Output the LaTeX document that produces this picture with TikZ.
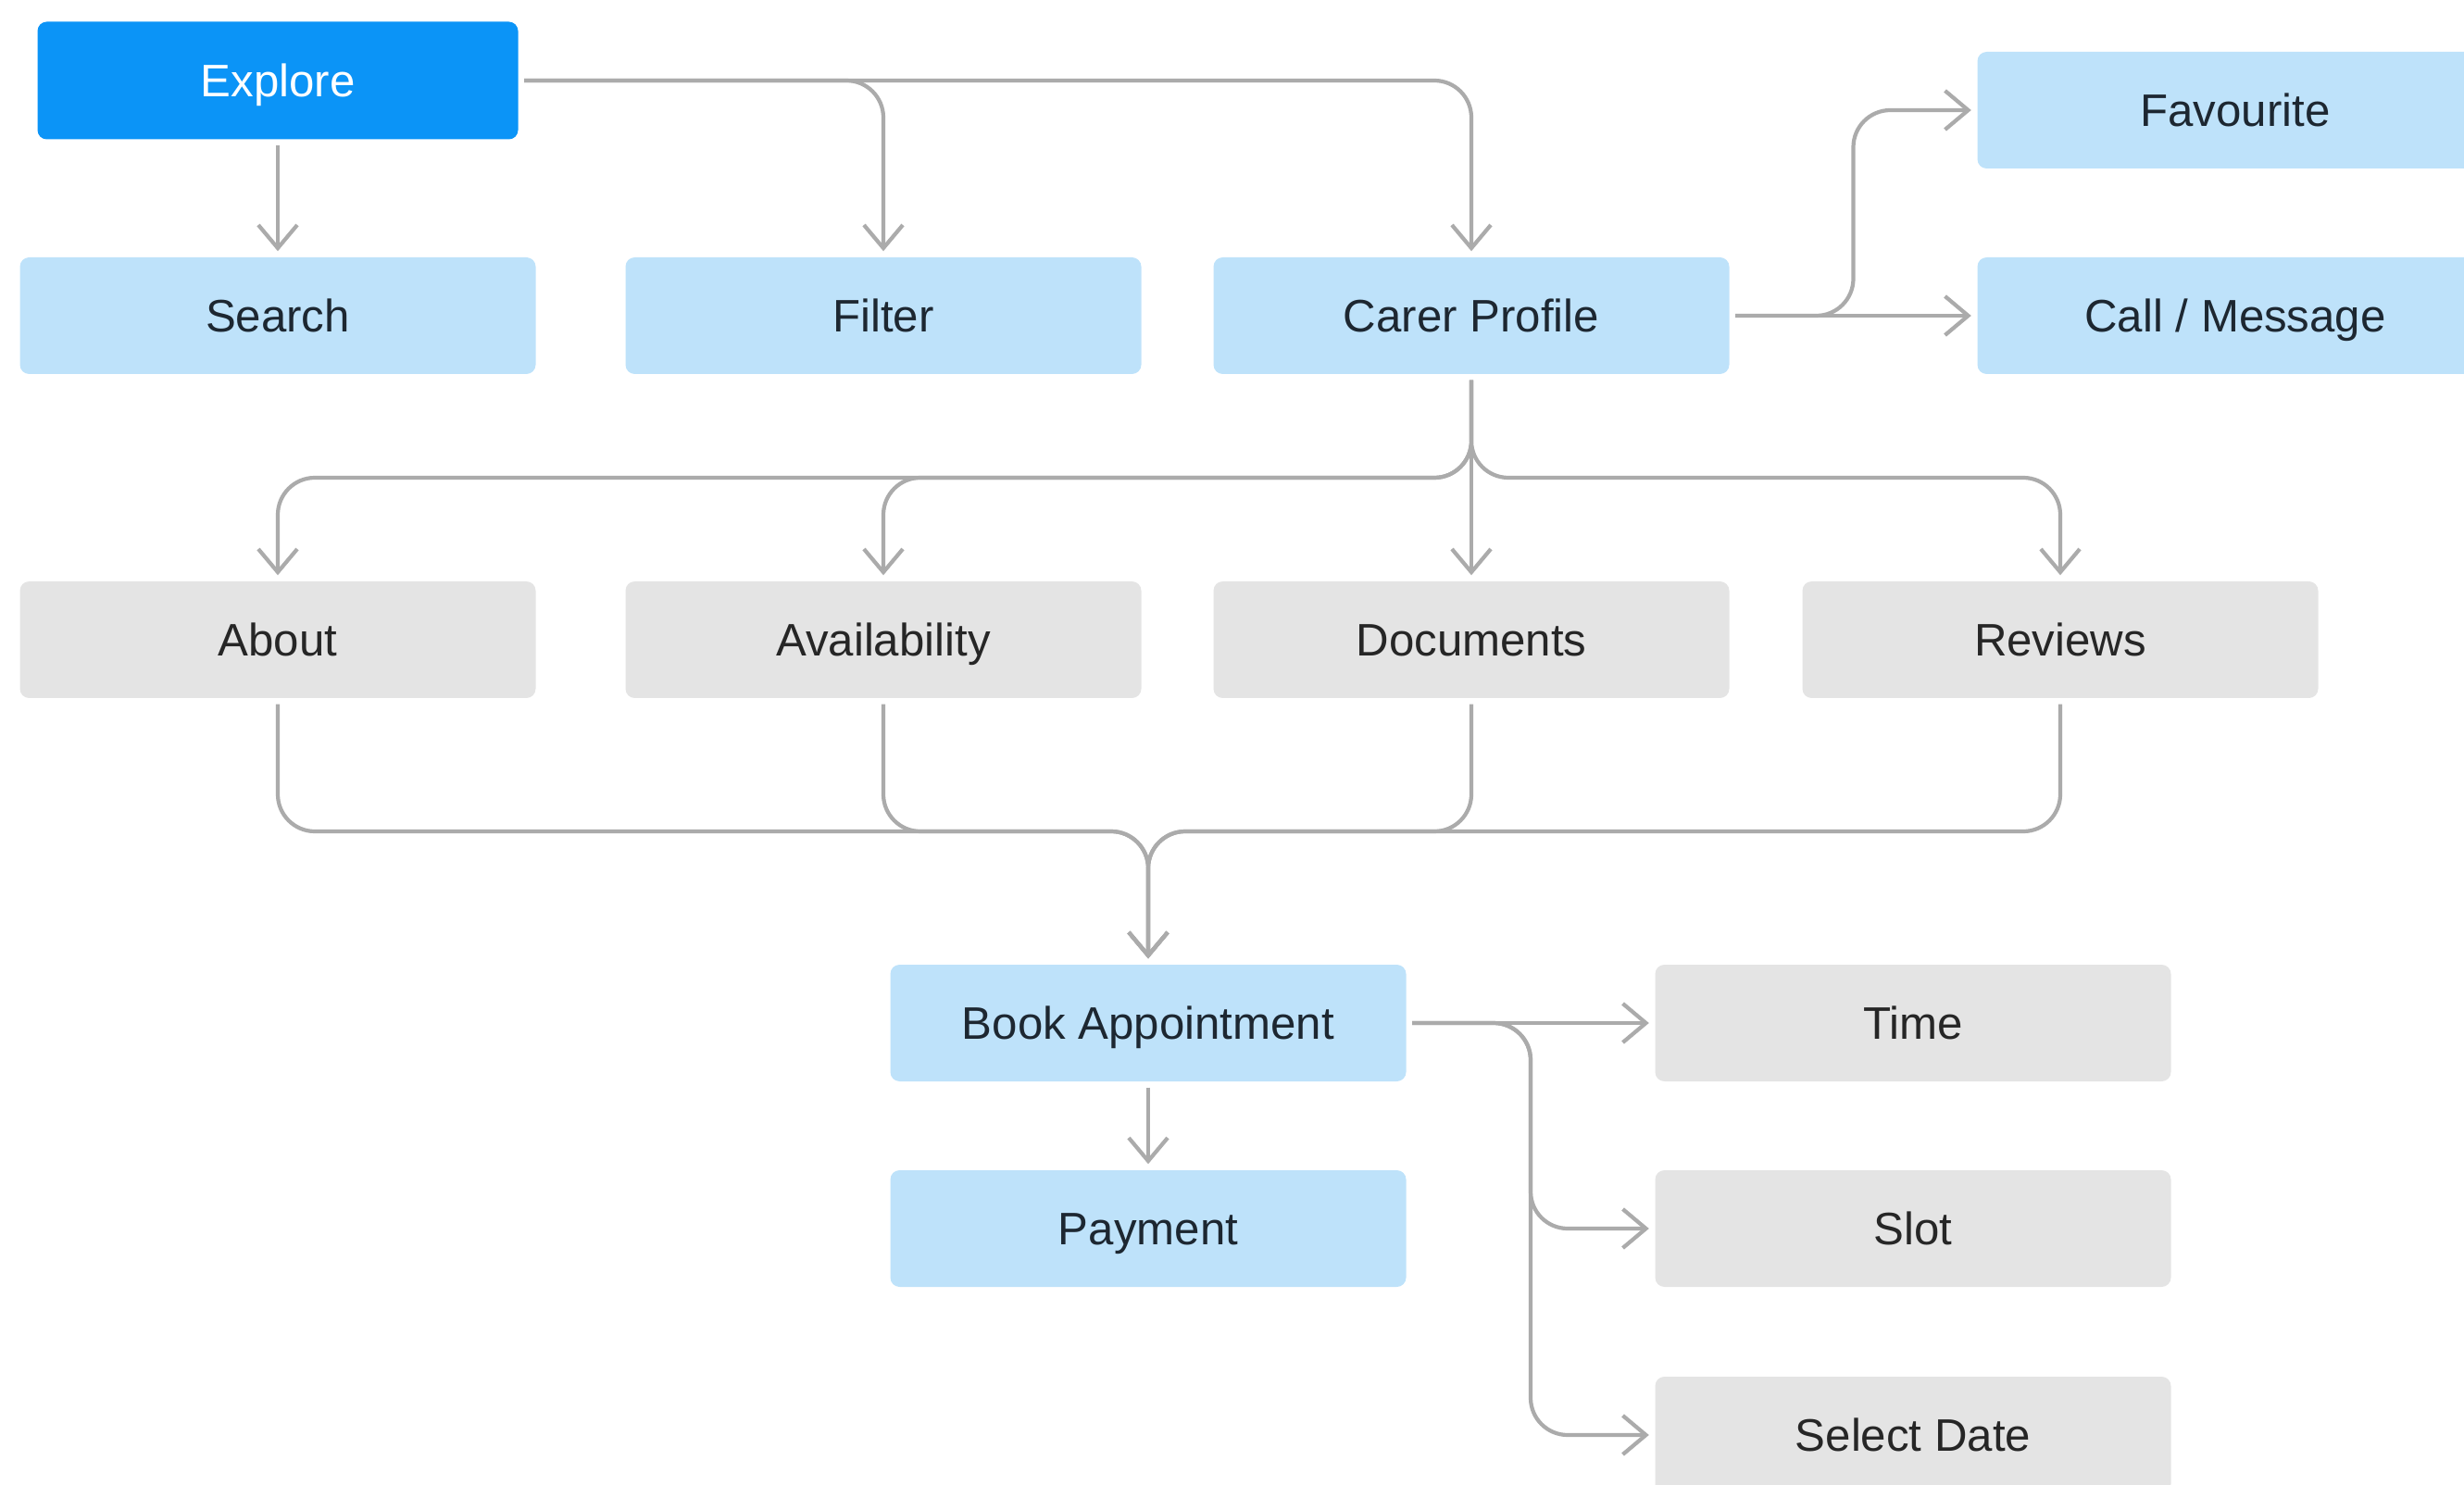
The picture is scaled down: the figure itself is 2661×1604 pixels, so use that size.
\documentclass[tikz,border=0pt]{standalone}
\usepackage{fontspec}
\setmainfont{Liberation Sans}
\usetikzlibrary{arrows.meta,calc}

\definecolor{bleuvif}{HTML}{0B94F7}
\definecolor{bleuclair}{HTML}{BEE2FA}
\definecolor{grisclair}{HTML}{E4E4E4}
\definecolor{grisligne}{HTML}{ABABAB}
\definecolor{texte}{HTML}{1D2731}

\tikzset{
  boite/.style={rectangle, rounded corners=1mm, minimum width=55.7mm, minimum height=12.6mm,
    inner sep=0pt, text height=10pt, text depth=0pt, text=texte, font=\fontsize{14}{17}\selectfont},
  bleu/.style={boite, fill=bleuclair},
  gris/.style={boite, fill=grisclair, text=black!85},
  lien/.style={->, draw=grisligne, line width=1.2pt, rounded corners=4mm,
    shorten <=0.6mm, shorten >=0.6mm},
  >={Straight Barb[length=2.5mm, width=4.2mm]}
}

\begin{document}
\begin{tikzpicture}[x=0.1mm, y=-0.1mm]
        \useasboundingbox (0,0) rectangle (2661,1604);

        % Racine Explore
        \node[boite, fill=bleuvif, text=white, minimum width=51.9mm, minimum height=12.7mm] (explore) at (300,87) {Explore};

        % Deuxième ligne
        \node[bleu] (search) at (300,341) {Search};
        \node[bleu] (filter) at (954,341) {Filter};
        \node[bleu] (carer) at (1589,341) {Carer Profile};
        \node[bleu] (fav) at (2414,119) {Favourite};
        \node[bleu] (call) at (2414,341) {Call / Message};

        % Onglets du profil
        \node[gris] (about) at (300,691) {About};
        \node[gris] (avail) at (954,691) {Availability};
        \node[gris] (docs) at (1589,691) {Documents};
        \node[gris] (reviews) at (2225,691) {Reviews};

        % Réservation
        \node[bleu] (book) at (1240,1105) {Book Appointment};
        \node[bleu] (pay) at (1240,1327) {Payment};
        \node[gris] (time) at (2066,1105) {Time};
        \node[gris] (slot) at (2066,1327) {Slot};
        \node[gris] (date) at (2066,1550) {Select Date};

        % Liens depuis Explore
        \draw[lien] (explore) -- (search);
        \draw[lien] (explore.east) -| (filter.north);
        \draw[lien] (explore.east) -| (carer.north);

        % Liens vers Favourite et Call / Message
        \coordinate (fourche) at ($(carer.east)!.5!(call.west)$);
        \draw[lien] (carer.east) -- (call.west);
        \draw[lien] (carer.east) -- (fourche) |- (fav.west);

        % Liens vers les onglets
        \coordinate (bus) at ($(carer.south)!.5!(docs.north)$);
        \draw[lien] (carer) -- (docs);
        \draw[lien] (carer.south) -- (bus) -| (about.north);
        \draw[lien] (carer.south) -- (bus) -| (avail.north);
        \draw[lien] (carer.south) -- (bus) -| (reviews.north);

        % Regroupement vers Book Appointment
        \coordinate (jonction) at ($(docs.south -| book.north)!.5!(book.north)$);
        \draw[lien] (about.south) |- (jonction) -- (book.north);
        \draw[lien] (avail.south) |- (jonction) -- (book.north);
        \draw[lien] (docs.south) |- (jonction) -- (book.north);
        \draw[lien] (reviews.south) |- (jonction) -- (book.north);

        % Liens depuis Book Appointment
        \draw[lien] (book) -- (pay);
        \draw[lien] (book) -- (time);
        \coordinate (fourche2) at ($(book.east)!.5!(time.west)$);
        \draw[lien] (book.east) -- (fourche2) |- (slot.west);
        \draw[lien] (book.east) -- (fourche2) |- (date.west);
    \end{tikzpicture}
\end{document}
